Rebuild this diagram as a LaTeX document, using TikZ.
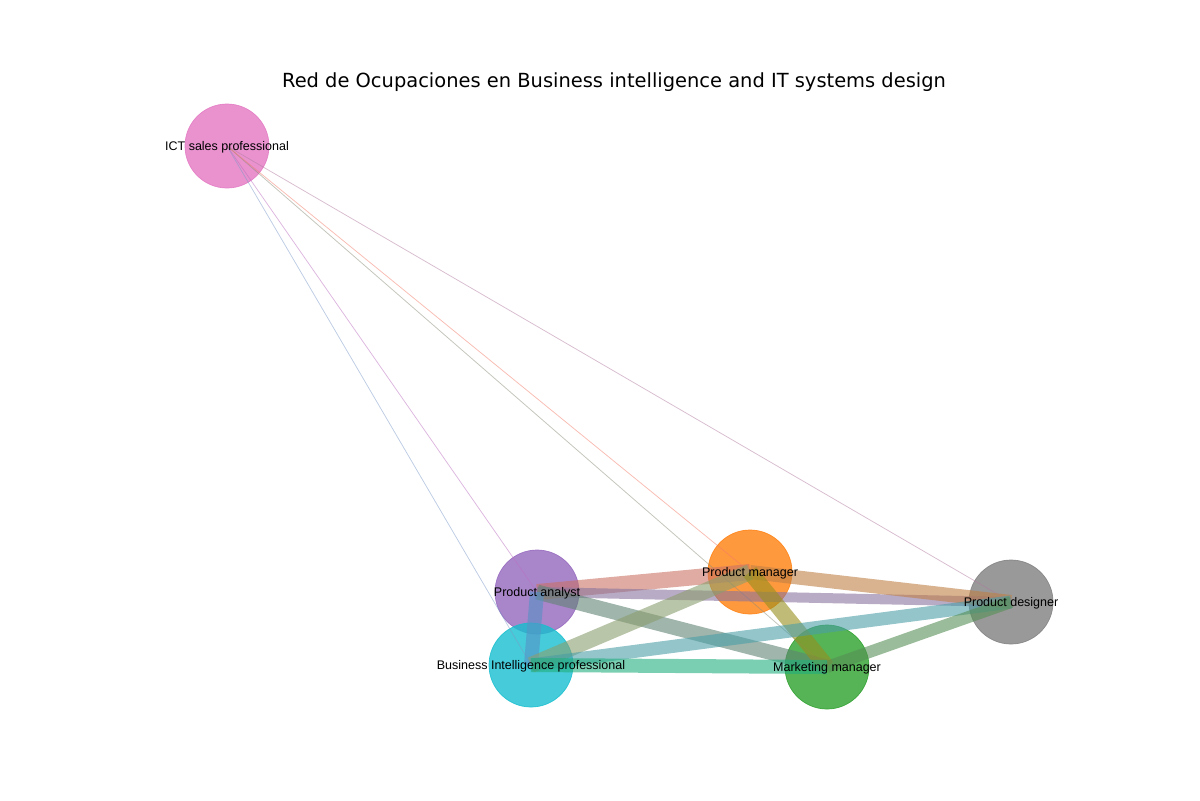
\documentclass[tikz,border=0pt]{standalone}
\usepackage{fontspec}
\setmainfont{Liberation Sans}
\newfontfamily\titlefont{DejaVu Sans}
\definecolor{cPA}{RGB}{148,103,189}
\definecolor{cPM}{RGB}{255,127,14}
\definecolor{cPD}{RGB}{127,127,127}
\definecolor{cBI}{RGB}{23,190,207}
\definecolor{cMM}{RGB}{44,160,44}
\definecolor{cICT}{RGB}{227,119,194}
\tikzset{
  occ/.style={circle, minimum size=60.5pt, inner sep=0pt, fill=#1, draw=#1, line width=0.5pt, fill opacity=0.8, draw opacity=0.85},
  lbl/.style={inner sep=0pt, font=\fontsize{9}{10}\selectfont, text=black},
  edge/.style={draw=#1, draw opacity=0.6, line cap=butt},
  thin/.style={draw=#1, draw opacity=0.5, line width=0.55pt}
}
\begin{document}
\begin{tikzpicture}[x=0.72pt, y=-0.72pt]
\useasboundingbox (0,0) rectangle (1200,800);
% nodes
\node[occ=cICT] (ict) at (227,146) {};
\node[occ=cPM] (pm) at (750,572) {};
\node[occ=cPD] (pd) at (1011,602) {};
\node[occ=cMM] (mm) at (827,667) {};
\node[occ=cPA] (pa) at (537,592) {};
\node[occ=cBI] (bi) at (531,665) {};
% thin edges from ICT
\draw[thin=cICT!50!cBI] (ict.center) -- (bi.center);
\draw[thin=cICT!50!cPA] (ict.center) -- (pa.center);
\draw[thin=cICT!50!cMM] (ict.center) -- (mm.center);
\draw[thin=cICT!50!cPM] (ict.center) -- (pm.center);
\draw[thin=cICT!50!cPD] (ict.center) -- (pd.center);
% thick edges
\draw[edge=cPA!50!cPM, line width=11.5pt] (pa.center) -- (pm.center);
\draw[edge=cPA!50!cPD, line width=7.2pt] (pa.center) -- (pd.center);
\draw[edge=cPA!50!cMM, line width=10.8pt] (pa.center) -- (mm.center);
\draw[edge=cPA!50!cBI, line width=10.1pt] (pa.center) -- (bi.center);
\draw[edge=cPM!50!cPD, line width=10.1pt] (pm.center) -- (pd.center);
\draw[edge=cPM!50!cBI, line width=11.5pt] (pm.center) -- (bi.center);
\draw[edge=cPM!50!cMM, line width=11.5pt] (pm.center) -- (mm.center);
\draw[edge=cPD!50!cBI, line width=9.4pt] (pd.center) -- (bi.center);
\draw[edge=cPD!50!cMM, line width=8.6pt] (pd.center) -- (mm.center);
\draw[edge=cBI!50!cMM, line width=10.1pt] (bi.center) -- (mm.center);
% labels
\node[lbl, yshift=-0.8pt] (ict-l) at (ict.center) {ICT sales professional};
\node[lbl, yshift=-0.8pt] (pa-l) at (pa.center) {Product analyst};
\node[lbl, yshift=-0.8pt] (pm-l) at (pm.center) {Product manager};
\node[lbl, yshift=-0.8pt] (pd-l) at (pd.center) {Product designer};
\node[lbl, yshift=-0.8pt] (bi-l) at (bi.center) {Business Intelligence professional};
\node[lbl, yshift=-0.8pt] (mm-l) at (mm.center) {Marketing manager};
% title
\node[inner sep=0pt, font=\titlefont\fontsize{14}{16}\selectfont] (title) at (614,82.5) {Red de Ocupaciones en Business intelligence and IT systems design};
\end{tikzpicture}
\end{document}
